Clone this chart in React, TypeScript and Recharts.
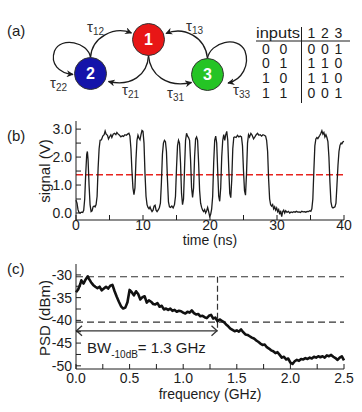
import React from 'react';
import { LineChart, Line, XAxis, YAxis, ReferenceLine, Label } from 'recharts';

const INK = '#1c1c1c';
const FONT = '"Liberation Sans", Arial, Helvetica, sans-serif';

// ---- (a) network + truth table ----
const nodeIds = ['1', '2', '3'];
const edgeIds = ['12', '22', '21', '31', '13', '33'];
const inputRows = [
  ['0', '0'],
  ['0', '1'],
  ['1', '0'],
  ['1', '1'],
];
const outputRows = [
  ['0', '0', '1'],
  ['1', '1', '0'],
  ['1', '1', '0'],
  ['0', '0', '1'],
];

// ---- (b) signal trace ----
const signalT = [
  0, 0.15, 0.3, 0.45, 0.6, 0.8, 1.0, 1.15, 1.3, 1.45, 1.6, 1.7, 1.8, 1.95, 2.1, 2.25, 2.4, 2.55, 2.7, 2.85,
  3.0, 3.15, 3.3, 3.45, 3.6, 3.8, 4.0, 4.2, 4.35, 4.5, 4.7, 4.85, 5.0, 5.2, 5.35, 5.55, 5.75, 5.95, 6.1, 6.3,
  6.5, 6.7, 6.9, 7.1, 7.3, 7.5, 7.7, 7.9, 8.05, 8.2, 8.35, 8.5, 8.65, 8.8, 8.95, 9.1, 9.25, 9.4, 9.55, 9.7,
  9.85, 10.0, 10.15, 10.3, 10.45, 10.6, 10.75, 10.9, 11.05, 11.2, 11.35, 11.5, 11.65, 11.8, 11.95, 12.1, 12.3, 12.45, 12.6, 12.75,
  12.9, 13.05, 13.2, 13.35, 13.5, 13.65, 13.8, 13.95, 14.1, 14.3, 14.5, 14.7, 14.85, 15.0, 15.15, 15.3, 15.45, 15.6, 15.75, 15.9,
  16.05, 16.2, 16.35, 16.5, 16.65, 16.8, 16.95, 17.1, 17.25, 17.4, 17.55, 17.7, 17.85, 18.0, 18.15, 18.3, 18.45, 18.6, 18.75, 18.9,
  19.05, 19.2, 19.35, 19.5, 19.65, 19.8, 19.95, 20.1, 20.25, 20.4, 20.55, 20.7, 20.85, 21.0, 21.15, 21.3, 21.45, 21.6, 21.75, 21.9,
  22.05, 22.2, 22.35, 22.5, 22.65, 22.8, 22.95, 23.1, 23.25, 23.4, 23.55, 23.7, 23.9, 24.1, 24.3, 24.5, 24.7, 24.85, 25.0, 25.15,
  25.3, 25.45, 25.6, 25.75, 25.9, 26.1, 26.3, 26.5, 26.7, 26.9, 27.1, 27.3, 27.5, 27.7, 27.9, 28.1, 28.3, 28.45, 28.6, 28.75,
  28.9, 29.05, 29.2, 29.35, 29.5, 29.65, 29.8, 29.95, 30.1, 30.25, 30.4, 30.55, 30.7, 30.85, 31.0, 31.15, 31.3, 31.5, 31.7, 31.9,
  32.1, 32.3, 32.5, 32.7, 32.9, 33.1, 33.3, 33.5, 33.7, 33.9, 34.1, 34.3, 34.5, 34.7, 34.9, 35.05, 35.2, 35.35, 35.5, 35.65,
  35.8, 35.95, 36.1, 36.25, 36.4, 36.55, 36.7, 36.85, 37.0, 37.15, 37.3, 37.45, 37.6, 37.75, 37.9, 38.05, 38.2, 38.35, 38.5, 38.65,
  38.8, 38.95, 39.1, 39.25, 39.4, 39.55, 39.7, 39.85, 40.0,
];
const signalV = [
  0.46, 0.35, 0.12, 0.02, 0.0, 0.03, 0.02, 0.1, 0.5, 1.4, 2.1, 2.2, 1.9, 1.0, 0.3, 0.05, 0.08, 0.22, 0.25, 0.22,
  0.3, 0.6, 1.6, 2.3, 2.6, 2.62, 2.75, 2.8, 2.93, 2.82, 2.78, 2.65, 2.72, 2.8, 2.7, 2.82, 2.85, 2.8, 2.88, 2.82,
  2.78, 2.72, 2.76, 2.74, 2.8, 2.78, 2.82, 2.85, 2.75, 2.3, 1.5, 0.9, 0.66, 0.9, 1.9, 2.6, 2.78, 2.68, 2.62, 2.8,
  2.95, 2.92, 2.5, 1.4, 0.6, 0.3, 0.2, 0.15, 0.22, 0.12, 0.05, 0.1, 0.25, 0.28, 0.1, 0.05, 0.12, 0.2, 0.35, 1.1,
  2.1, 2.5, 2.6, 2.55, 2.2, 1.2, 0.4, 0.22, 0.2, 0.25, 0.18, 0.3, 0.6, 1.6, 2.4, 2.6, 2.5, 1.8, 0.7, 0.3,
  0.5, 1.6, 2.6, 2.85, 2.75, 2.7, 2.6, 1.9, 0.9, 0.56, 0.9, 2.0, 2.65, 2.72, 2.6, 1.8, 0.8, 0.35, 0.2, 0.1,
  0.05, 0.12, 0.0, 0.08, 0.2, 0.05, -0.12, -0.05, 0.15, 0.6, 1.8, 2.6, 2.75, 2.5, 1.5, 0.6, 0.42, 0.9, 2.0, 2.6,
  2.8, 2.6, 2.8, 2.92, 2.6, 1.6, 0.7, 0.55, 1.2, 2.3, 2.7, 2.72, 2.7, 2.78, 2.72, 2.75, 2.72, 2.4, 1.5, 0.8,
  0.64, 1.4, 2.5, 2.8, 2.72, 2.85, 2.78, 2.65, 2.72, 2.8, 2.85, 2.78, 2.8, 2.75, 2.8, 2.78, 2.75, 2.6, 2.2, 1.2,
  0.5, 0.3, 0.25, 0.3, 0.15, 0.22, 0.1, 0.18, 0.05, 0.12, -0.05, 0.08, -0.13, 0.05, 0.1, 0.0, 0.08, 0.02, 0.06, 0.0,
  0.04, 0.02, 0.05, 0.03, 0.06, 0.03, 0.04, 0.02, 0.06, 0.04, 0.05, 0.03, 0.06, 0.05, 0.08, 0.06, 0.15, 0.5, 1.5, 2.4,
  2.65, 2.7, 2.66, 2.72, 2.78, 2.85, 2.94, 2.82, 2.88, 2.72, 2.8, 2.7, 2.55, 2.0, 1.1, 0.4, 0.22, 0.18, 0.2, 0.22,
  0.35, 1.0, 1.7, 2.2, 2.42, 2.5, 2.48, 2.55, 2.56,
];
const threshold = 1.37;
const timeTicks = [0, 5, 10, 15, 20, 25, 30, 35, 40];
const timeLabels = [0, 10, 20, 30, 40];
const voltTicks = [0, 0.5, 1, 1.5, 2, 2.5, 3];
const voltLabels = [0, 1, 2, 3];

// ---- (c) power spectral density ----
const psdF = [
  0, 0.02, 0.04, 0.05, 0.07, 0.09, 0.11, 0.12, 0.14, 0.16, 0.18, 0.2, 0.22, 0.24, 0.26, 0.28, 0.3, 0.32, 0.34, 0.36,
  0.38, 0.4, 0.42, 0.44, 0.46, 0.48, 0.5, 0.52, 0.54, 0.56, 0.58, 0.6, 0.62, 0.64, 0.66, 0.68, 0.7, 0.72, 0.74, 0.76,
  0.78, 0.8, 0.82, 0.84, 0.86, 0.88, 0.9, 0.92, 0.94, 0.96, 0.98, 1.0, 1.02, 1.04, 1.06, 1.08, 1.1, 1.12, 1.14, 1.16,
  1.18, 1.2, 1.22, 1.24, 1.26, 1.28, 1.3, 1.32, 1.34, 1.36, 1.38, 1.4, 1.42, 1.44, 1.46, 1.48, 1.5, 1.52, 1.54, 1.56,
  1.58, 1.6, 1.62, 1.64, 1.66, 1.68, 1.7, 1.72, 1.74, 1.76, 1.78, 1.8, 1.82, 1.84, 1.86, 1.88, 1.9, 1.92, 1.94, 1.96,
  1.98, 2.0, 2.02, 2.04, 2.06, 2.08, 2.1, 2.12, 2.14, 2.16, 2.18, 2.2, 2.22, 2.24, 2.26, 2.28, 2.3, 2.32, 2.34, 2.36,
  2.38, 2.4, 2.42, 2.44, 2.46, 2.48, 2.5,
];
const psdDb = [
  -33.8, -33.2, -32.0, -31.2, -31.9, -31.0, -30.3, -30.8, -31.6, -32.2, -32.6, -32.9, -32.6, -33.4, -33.0, -32.6, -33.0, -32.4, -32.2, -33.6,
  -34.8, -35.9, -36.9, -37.4, -37.2, -36.0, -33.3, -33.8, -34.5, -33.6, -34.2, -35.4, -34.9, -34.7, -36.1, -35.6, -35.9, -36.4, -36.5, -36.2,
  -37.0, -36.8, -37.6, -37.4, -37.7, -37.4, -37.9, -37.7, -38.1, -37.9, -38.0, -38.3, -38.5, -38.1, -38.3, -37.8, -38.4, -38.7, -38.6, -39.1,
  -39.0, -39.3, -39.5, -39.0, -38.8, -39.6, -39.4, -40.2, -39.8, -40.1, -40.4, -40.9, -41.3, -41.8, -42.1, -42.4, -42.2, -42.5, -42.0, -42.6,
  -43.1, -43.2, -43.5, -43.8, -44.0, -44.4, -44.7, -45.1, -45.4, -45.3, -45.9, -46.2, -46.6, -46.8, -47.2, -47.0, -47.6, -48.2, -48.0, -48.6,
  -48.4, -49.3, -49.6, -49.0, -48.7, -48.9, -48.5, -48.6, -48.3, -48.5, -48.2, -48.4, -48.0, -48.2, -47.9, -48.1, -47.9, -48.2, -47.7, -47.9,
  -47.6, -48.0, -48.3, -48.7, -48.2, -47.9, -48.8,
];
const peakDb = -30.4;
const tenDbDown = -40.4;
const bwGHz = 1.32;
const arrowDb = -42.3;
const freqTicks = [0, 0.25, 0.5, 0.75, 1, 1.25, 1.5, 1.75, 2, 2.25, 2.5];
const freqLabels = [0, 0.5, 1, 1.5, 2, 2.5];
const dbTicks = [-50, -47.5, -45, -42.5, -40, -37.5, -35, -32.5, -30];
const dbLabels = [-50, -45, -40, -35, -30];

const signalData = signalT.map((t, i) => ({ t, v: signalV[i] }));
const psdData = psdF.map((f, i) => ({ f, p: psdDb[i] }));

/* inward tick marks, labels only on the labelled subset */
function tickFor(side: 'left' | 'right' | 'top' | 'bottom', labels: number[], fmt: (v: number) => string, gap = 11) {
  return (p: any) => {
    const { x, y } = p;
    const v = p.payload?.value;
    const show = labels.includes(v);
    const len = 5;
    if (side === 'left') {
      return (
        <g>
          <line x1={x} y1={y} x2={x + len} y2={y} stroke={INK} strokeWidth={1} />
          {show && (
            <text x={x - 4} y={y + 5} textAnchor="end" fontSize={14} fill={INK}>
              {fmt(v)}
            </text>
          )}
        </g>
      );
    }
    if (side === 'right') return <line x1={x} y1={y} x2={x - len} y2={y} stroke={INK} strokeWidth={1} />;
    if (side === 'top') return <line x1={x} y1={y} x2={x} y2={y + len} stroke={INK} strokeWidth={1} />;
    return (
      <g>
        <line x1={x} y1={y} x2={x} y2={y - len} stroke={INK} strokeWidth={1} />
        {show && (
          <text x={x} y={y + gap} textAnchor="middle" fontSize={14} fill={INK}>
            {fmt(v)}
          </text>
        )}
      </g>
    );
  };
}

// titles are placed in each chart's own svg coordinates
function yTitle(text: string, cy: number) {
  return () => (
    <text x={44} y={cy} transform={`rotate(-90 44 ${cy})`} textAnchor="middle" dominantBaseline="central" fontSize={15} fill={INK}>
      {text}
    </text>
  );
}

function xTitle(text: string, baseline: number) {
  return () => (
    <text x={210} y={baseline} textAnchor="middle" fontSize={14} fill={INK}>
      {text}
    </text>
  );
}

/* double-headed arrow with the bandwidth annotation under it */
function BwArrow(p: any) {
  const { x1, y1, x2 } = p;
  const h = 5;
  return (
    <g>
      <line x1={x1} y1={y1} x2={x2} y2={y1} stroke="#333" strokeWidth={1.3} />
      <polyline points={`${x1 + h + 1},${y1 - h} ${x1 + 0.5},${y1} ${x1 + h + 1},${y1 + h}`} fill="none" stroke="#333" strokeWidth={1.3} />
      <polyline points={`${x2 - h - 1},${y1 - h} ${x2 - 0.5},${y1} ${x2 - h - 1},${y1 + h}`} fill="none" stroke="#333" strokeWidth={1.3} />
      <text x={x1 + 11} y={y1 + 22} fontSize={15} fill={INK}>
        BW
        <tspan fontSize={10} dy={5}>-10dB</tspan>
        <tspan dy={-5}>= 1.3 GHz</tspan>
      </text>
    </g>
  );
}

const NODE_LAYOUT: Record<string, { cx: number; cy: number; fill: string }> = {
  '1': { cx: 148.5, cy: 39.5, fill: '#e81616' },
  '2': { cx: 90.5, cy: 73.5, fill: '#1414aa' },
  '3': { cx: 207.5, cy: 74.5, fill: '#25c425' },
};
const EDGE_PATH: Record<string, string> = {
  '12': 'M 90.5 57.5 C 92 37, 114 26, 131.5 33',
  '22': 'M 90.5 57.5 C 88 42, 61 36, 54.5 51 C 50 64, 59 73, 73 74.5',
  '21': 'M 148.5 55.5 C 147.5 75, 131 87, 108.5 81.5',
  '31': 'M 148.5 55.5 C 150 75, 167 88, 191.5 82.5',
  '13': 'M 207.5 58.5 C 205.5 37, 184 26, 166 33.5',
  '33': 'M 207.5 58.5 C 210 42, 238 35, 245 51 C 250 65, 242 80, 228 83',
};
const EDGE_LABEL: Record<string, [number, number]> = {
  '12': [87, 32],
  '22': [50, 88],
  '21': [122, 94.5],
  '31': [167, 98],
  '13': [186, 31],
  '33': [233, 94.5],
};
const IN_X = [266, 283.5];
const OUT_X = [311.5, 325, 338.5];
const ROW_Y = [53.5, 68, 82.5, 97.5];

function NetworkPanel() {
  return (
    <svg width={362} height={412} style={{ position: 'absolute', left: 0, top: 0 }}>
      <defs>
        <marker id="ah" viewBox="0 0 10 10" refX="9" refY="5" markerWidth="7" markerHeight="7" orient="auto" markerUnits="userSpaceOnUse">
          <path d="M0,0 L10,5 L0,10 L3,5 z" fill={INK} />
        </marker>
      </defs>
      <text x={7} y={36} fontSize={15} fill={INK}>(a)</text>
      <text x={7} y={141} fontSize={15} fill={INK}>(b)</text>
      <text x={7} y={274} fontSize={15} fill={INK}>(c)</text>

      {edgeIds.map((id) => (
        <path key={id} d={EDGE_PATH[id]} fill="none" stroke={INK} strokeWidth={1.3} markerEnd="url(#ah)" />
      ))}
      {edgeIds.map((id) => (
        <text key={`l${id}`} x={EDGE_LABEL[id][0]} y={EDGE_LABEL[id][1]} fontSize={15} fill="#333">
          τ<tspan fontSize={10} dy={3}>{id}</tspan>
        </text>
      ))}
      {nodeIds.map((id) => {
        const n = NODE_LAYOUT[id];
        return (
          <g key={id}>
            <circle cx={n.cx} cy={n.cy} r={16} fill={n.fill} stroke="#333" strokeWidth={1} />
            <text x={n.cx} y={n.cy + 5.5} textAnchor="middle" fontSize={16} fontWeight="bold" fill="#fff">
              {id}
            </text>
          </g>
        );
      })}

      <text x={256} y={37.5} fontSize={14} fill={INK} textLength={44} lengthAdjust="spacingAndGlyphs">inputs</text>
      {nodeIds.map((id, j) => (
        <text key={`h${id}`} x={OUT_X[j]} y={37.5} textAnchor="middle" fontSize={14} fill={INK}>
          {id}
        </text>
      ))}
      <line x1={256} y1={41} x2={350} y2={41} stroke={INK} strokeWidth={1} />
      <line x1={301.5} y1={27} x2={301.5} y2={103} stroke={INK} strokeWidth={1} />
      {inputRows.map((row, i) =>
        row.map((d, j) => (
          <text key={`i${i}${j}`} x={IN_X[j]} y={ROW_Y[i]} textAnchor="middle" fontSize={14} fill={INK}>
            {d}
          </text>
        )),
      )}
      {outputRows.map((row, i) =>
        row.map((d, j) => (
          <text key={`o${i}${j}`} x={OUT_X[j]} y={ROW_Y[i]} textAnchor="middle" fontSize={14} fill={INK}>
            {d}
          </text>
        )),
      )}
    </svg>
  );
}

export default function App() {
  const axisLine = { stroke: INK, strokeWidth: 1 };
  return (
    <div style={{ position: 'absolute', left: 0, top: 0, width: 362, height: 412, background: '#fff', fontFamily: FONT, overflow: 'hidden' }}>
      <NetworkPanel />

      <div style={{ position: 'absolute', left: 0, top: 110 }}>
        <LineChart width={362} height={145} data={signalData} margin={{ top: 11, right: 18, left: 0, bottom: 0 }}>
          <XAxis xAxisId="b" dataKey="t" type="number" domain={[0, 40]} ticks={timeTicks} interval={0} height={35}
            tickSize={0} tickMargin={0} tickLine={false} axisLine={axisLine} tick={tickFor('bottom', timeLabels, (v) => `${v}`, 9.5)}>
            <Label content={xTitle('time (ns)', 135.4)} />
          </XAxis>
          <XAxis xAxisId="t" orientation="top" dataKey="t" type="number" domain={[0, 40]} ticks={timeTicks} interval={0} height={0}
            tickSize={0} tickMargin={0} tickLine={false} axisLine={axisLine} tick={tickFor('top', [], (v) => `${v}`)} />
          <YAxis yAxisId="l" type="number" domain={[-0.25, 3.29]} allowDataOverflow ticks={voltTicks} interval={0} width={76}
            tickSize={0} tickMargin={0} tickLine={false} axisLine={axisLine} tick={tickFor('left', voltLabels, (v) => v.toFixed(1))}>
            <Label content={yTitle('signal (V)', 61)} />
          </YAxis>
          <YAxis yAxisId="r" orientation="right" type="number" domain={[-0.25, 3.29]} allowDataOverflow ticks={voltTicks} interval={0} width={0}
            tickSize={0} tickMargin={0} tickLine={false} axisLine={axisLine} tick={tickFor('right', [], (v) => `${v}`)} />
          <ReferenceLine xAxisId="b" yAxisId="l" y={threshold} stroke="#e8231f" strokeWidth={1.5} strokeDasharray="7 3" />
          <Line xAxisId="b" yAxisId="l" dataKey="v" type="linear" stroke={INK} strokeWidth={1.3} dot={false} isAnimationActive={false} />
        </LineChart>
      </div>

      <div style={{ position: 'absolute', left: 0, top: 255 }}>
        <LineChart width={362} height={154} data={psdData} margin={{ top: 9, right: 18, left: 0, bottom: 0 }}>
          <XAxis xAxisId="b" dataKey="f" type="number" domain={[0, 2.5]} ticks={freqTicks} interval={0} height={40}
            tickSize={0} tickMargin={0} tickLine={false} axisLine={axisLine} tick={tickFor('bottom', freqLabels, (v) => v.toFixed(1), 14)}>
            <Label content={xTitle('frequency (GHz)', 143.5)} />
          </XAxis>
          <XAxis xAxisId="t" orientation="top" dataKey="f" type="number" domain={[0, 2.5]} ticks={freqTicks} interval={0} height={0}
            tickSize={0} tickMargin={0} tickLine={false} axisLine={axisLine} tick={tickFor('top', [], (v) => `${v}`)} />
          <YAxis yAxisId="l" type="number" domain={[-50.7, -27.6]} allowDataOverflow ticks={dbTicks} interval={0} width={76}
            tickSize={0} tickMargin={0} tickLine={false} axisLine={axisLine} tick={tickFor('left', dbLabels, (v) => `${v}`)}>
            <Label content={yTitle('PSD (dBm)', 63)} />
          </YAxis>
          <YAxis yAxisId="r" orientation="right" type="number" domain={[-50.7, -27.6]} allowDataOverflow ticks={dbTicks} interval={0} width={0}
            tickSize={0} tickMargin={0} tickLine={false} axisLine={axisLine} tick={tickFor('right', [], (v) => `${v}`)} />
          <ReferenceLine xAxisId="b" yAxisId="l" y={peakDb} stroke="#333" strokeWidth={1.2} strokeDasharray="7 4" />
          <ReferenceLine xAxisId="b" yAxisId="l" y={tenDbDown} stroke="#333" strokeWidth={1.2} strokeDasharray="7 4" />
          <ReferenceLine xAxisId="b" yAxisId="l" segment={[{ x: bwGHz, y: peakDb }, { x: bwGHz, y: -41.6 }]} stroke="#333" strokeWidth={1.2} strokeDasharray="6 3" />
          <ReferenceLine xAxisId="b" yAxisId="l" segment={[{ x: 0, y: arrowDb }, { x: bwGHz, y: arrowDb }]} shape={BwArrow} />
          <Line xAxisId="b" yAxisId="l" dataKey="p" type="linear" stroke="#111" strokeWidth={2.6} strokeLinejoin="round" dot={false} isAnimationActive={false} />
        </LineChart>
      </div>
    </div>
  );
}
